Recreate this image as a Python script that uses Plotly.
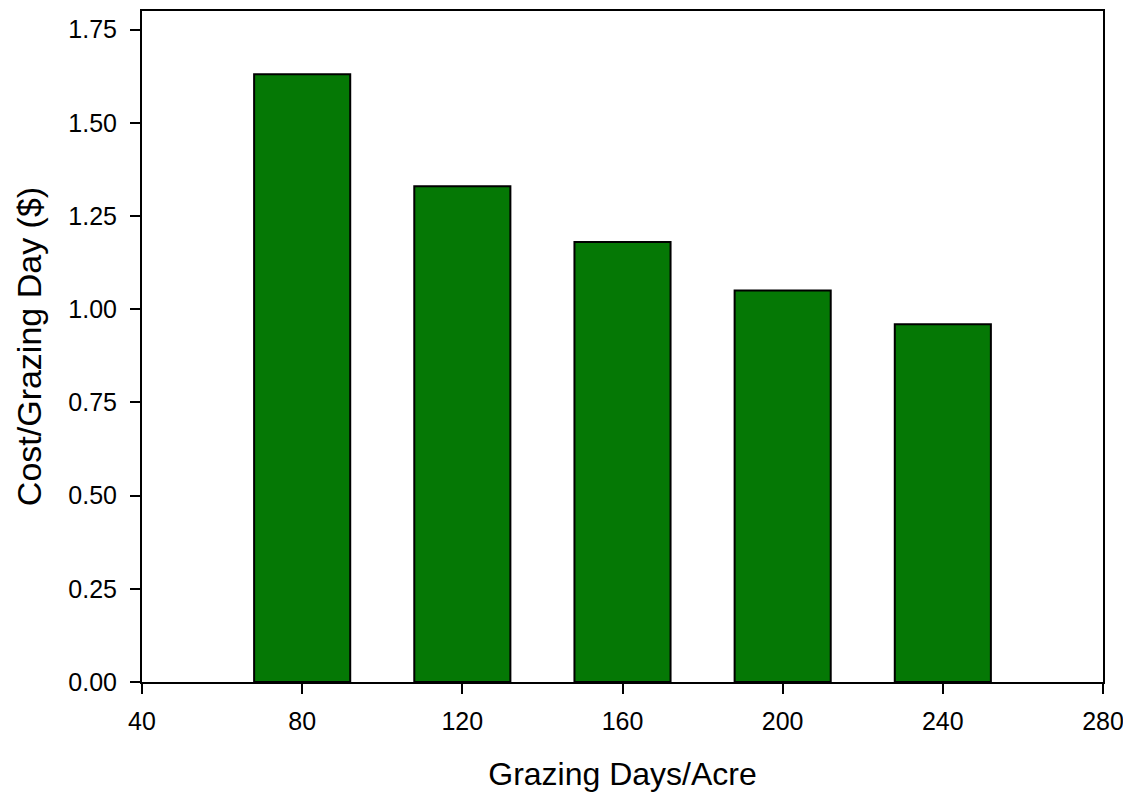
import plotly.graph_objects as go

grazing_days = [80, 120, 160, 200, 240]
cost_per_day = [1.63, 1.33, 1.18, 1.05, 0.96]
x_ticks = [40, 80, 120, 160, 200, 240, 280]
y_ticks = [0, 0.25, 0.5, 0.75, 1.0, 1.25, 1.5, 1.75]

fig = go.Figure(go.Bar(
    x=grazing_days, y=cost_per_day, width=24,
    marker=dict(color="#057805", line=dict(color="black", width=2)),
))

font = "Liberation Sans, Arial, sans-serif"
fig.update_layout(
    width=1123, height=788,
    margin=dict(l=134, r=28, t=1, b=114),
    plot_bgcolor="white", paper_bgcolor="white",
    font=dict(family=font, color="black", size=25),
    showlegend=False,
)
fig.update_xaxes(
    range=[40, 280], tickvals=x_ticks, ticktext=[str(v) for v in x_ticks],
    ticks="outside", ticklen=10, tickwidth=2, tickcolor="black",
    ticklabelstandoff=6,
    showline=True, linecolor="black", linewidth=2, mirror=True,
    showgrid=False, zeroline=False,
    title=dict(text="Grazing Days/Acre", font=dict(size=32), standoff=29),
)
fig.update_yaxes(
    range=[0, 1.8], tickvals=y_ticks, ticktext=[f"{v:.2f}" for v in y_ticks],
    ticks="outside", ticklen=10, tickwidth=2, tickcolor="black",
    ticklabelstandoff=8,
    showline=True, linecolor="black", linewidth=2, mirror=True,
    showgrid=False, zeroline=False,
    title=dict(text="Cost/Grazing Day ($)", font=dict(size=34), standoff=16),
)
fig.write_html("out.html")
